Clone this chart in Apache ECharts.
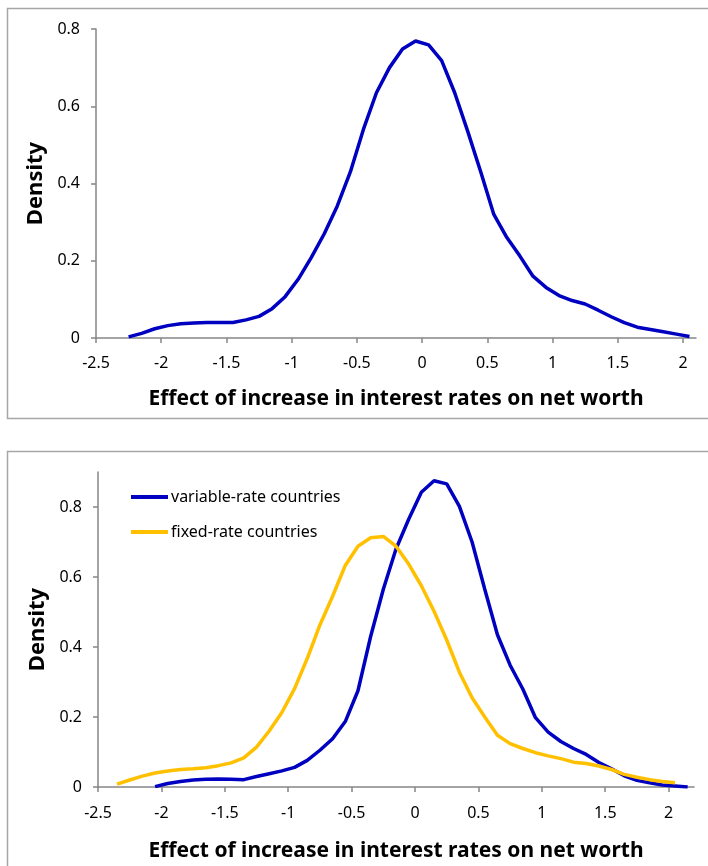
<!DOCTYPE html>
<html>
<head>
<meta charset="utf-8">
<script src="https://cdn.jsdelivr.net/npm/echarts@6/dist/echarts.min.js"></script>
<style>
html,body{margin:0;padding:0;background:#fff;}
#c{width:708px;height:866px;}
</style>
</head>
<body>
<div id="c"></div>
<script>
// ---- data ----
var xTickLabels = [-2.5, -2, -1.5, -1, -0.5, 0, 0.5, 1, 1.5, 2];
var yTickLabels = [0, 0.2, 0.4, 0.6, 0.8];

// Panel 1: all countries
var allX = [-2.25,-2.15,-2.05,-1.95,-1.85,-1.75,-1.65,-1.55,-1.45,-1.35,-1.25,-1.15,-1.05,-0.95,-0.85,-0.75,-0.65,-0.55,-0.45,-0.35,-0.25,-0.15,-0.05,0.05,0.15,0.25,0.35,0.45,0.55,0.65,0.75,0.85,0.95,1.05,1.15,1.25,1.35,1.45,1.55,1.65,1.75,1.85,1.95,2.05];
var allY = [0.003,0.012,0.024,0.032,0.037,0.039,0.040,0.040,0.040,0.047,0.056,0.076,0.107,0.152,0.208,0.270,0.342,0.430,0.540,0.635,0.700,0.748,0.769,0.759,0.718,0.635,0.535,0.430,0.320,0.260,0.212,0.160,0.131,0.110,0.097,0.088,0.072,0.055,0.040,0.028,0.022,0.016,0.010,0.004];

// Panel 2: variable-rate countries
var varX = [-2.05,-1.95,-1.85,-1.75,-1.65,-1.55,-1.45,-1.35,-1.25,-1.15,-1.05,-0.95,-0.85,-0.75,-0.65,-0.55,-0.45,-0.35,-0.25,-0.15,-0.05,0.05,0.15,0.25,0.35,0.45,0.55,0.65,0.75,0.85,0.95,1.05,1.15,1.25,1.35,1.45,1.55,1.65,1.75,1.85,1.95,2.05,2.15];
var varY = [0.001,0.010,0.016,0.020,0.022,0.023,0.022,0.021,0.030,0.038,0.046,0.056,0.076,0.105,0.138,0.187,0.275,0.430,0.565,0.680,0.765,0.842,0.875,0.866,0.802,0.700,0.565,0.435,0.348,0.280,0.198,0.157,0.130,0.110,0.093,0.070,0.052,0.032,0.019,0.012,0.006,0.003,0.000];

// Panel 2: fixed-rate countries
var fixX = [-2.35,-2.25,-2.15,-2.05,-1.95,-1.85,-1.75,-1.65,-1.55,-1.45,-1.35,-1.25,-1.15,-1.05,-0.95,-0.85,-0.75,-0.65,-0.55,-0.45,-0.35,-0.25,-0.15,-0.05,0.05,0.15,0.25,0.35,0.45,0.55,0.65,0.75,0.85,0.95,1.05,1.15,1.25,1.35,1.45,1.55,1.65,1.75,1.85,1.95,2.05];
var fixY = [0.008,0.020,0.031,0.040,0.046,0.050,0.052,0.055,0.061,0.069,0.083,0.114,0.160,0.213,0.281,0.367,0.463,0.545,0.633,0.688,0.712,0.716,0.688,0.637,0.575,0.502,0.420,0.328,0.255,0.200,0.148,0.124,0.110,0.098,0.089,0.081,0.071,0.067,0.060,0.050,0.036,0.028,0.021,0.016,0.012];

var xTitle = 'Effect of increase in interest rates on net worth';
var yTitle = 'Density';
var seriesNames = ['variable-rate countries', 'fixed-rate countries'];

function pairs(xs, ys) { return xs.map(function (x, i) { return [x, ys[i]]; }); }

var FONT = 'Noto Sans';
var AXIS_COLOR = '#868686';
var BLUE = '#0000C0';
var ORANGE = '#FFC000';

function xAxisCfg(gridIndex, max, labelMargin, nameGap) {
  return {
    type: 'value', gridIndex: gridIndex, min: -2.5, max: max,
    axisLine: { show: true, onZero: false, lineStyle: { color: AXIS_COLOR, width: 1.5 } },
    axisTick: { show: true, customValues: xTickLabels, length: 5, inside: false, lineStyle: { color: AXIS_COLOR, width: 1.5 } },
    axisLabel: { customValues: xTickLabels, margin: labelMargin, color: '#000', fontFamily: FONT, fontSize: 16 },
    splitLine: { show: false },
    name: xTitle, nameLocation: 'middle', nameGap: nameGap,
    nameTextStyle: { color: '#000', fontFamily: FONT, fontSize: 21, fontWeight: 'bold' }
  };
}
function yAxisCfg(gridIndex, max, nameGap) {
  return {
    type: 'value', gridIndex: gridIndex, min: 0, max: max,
    axisLine: { show: true, onZero: false, lineStyle: { color: AXIS_COLOR, width: 1.5 } },
    axisTick: { show: true, customValues: yTickLabels, length: 5, lineStyle: { color: AXIS_COLOR, width: 1.5 } },
    axisLabel: { customValues: yTickLabels, margin: 16, color: '#000', fontFamily: FONT, fontSize: 16 },
    splitLine: { show: false },
    name: yTitle, nameLocation: 'middle', nameGap: nameGap, nameRotate: 90,
    nameTextStyle: { color: '#000', fontFamily: FONT, fontSize: 22, fontWeight: 'bold' }
  };
}

var chart = echarts.init(document.getElementById('c'), null, { renderer: 'canvas' });
chart.setOption({
  animation: false,
  backgroundColor: '#fff',
  graphic: [
    { type: 'rect', shape: { x: 7.5, y: 8.5, width: 720, height: 410 }, style: { fill: 'none', stroke: '#A6A6A6', lineWidth: 1.5 }, silent: true },
    { type: 'rect', shape: { x: 7.5, y: 451.5, width: 720, height: 440 }, style: { fill: 'none', stroke: '#A6A6A6', lineWidth: 1.5 }, silent: true }
  ],
  grid: [
    { left: 96, top: 29, width: 600, height: 309 },
    { left: 98, top: 472, width: 596, height: 315 }
  ],
  legend: {
    data: seriesNames, orient: 'vertical', left: 126, top: 482,
    icon: 'rect', itemWidth: 37, itemHeight: 4, itemGap: 15,
    textStyle: { color: '#000', fontFamily: FONT, fontSize: 16, lineHeight: 20, padding: [0, 0, 0, -2] }
  },
  xAxis: [ xAxisCfg(0, 2.1, 17, 51), xAxisCfg(1, 2.2, 18, 54) ],
  yAxis: [ yAxisCfg(0, 0.8, 47), yAxisCfg(1, 0.9, 48) ],
  series: [
    { name: 'all', type: 'line', xAxisIndex: 0, yAxisIndex: 0, data: pairs(allX, allY), showSymbol: false, symbol: 'none', lineStyle: { color: BLUE, width: 3.5 }, itemStyle: { color: BLUE } },
    { name: seriesNames[0], type: 'line', xAxisIndex: 1, yAxisIndex: 1, data: pairs(varX, varY), showSymbol: false, symbol: 'none', lineStyle: { color: BLUE, width: 3.5 }, itemStyle: { color: BLUE } },
    { name: seriesNames[1], type: 'line', xAxisIndex: 1, yAxisIndex: 1, data: pairs(fixX, fixY), showSymbol: false, symbol: 'none', lineStyle: { color: ORANGE, width: 3.5 }, itemStyle: { color: ORANGE } }
  ]
});
</script>
</body>
</html>
